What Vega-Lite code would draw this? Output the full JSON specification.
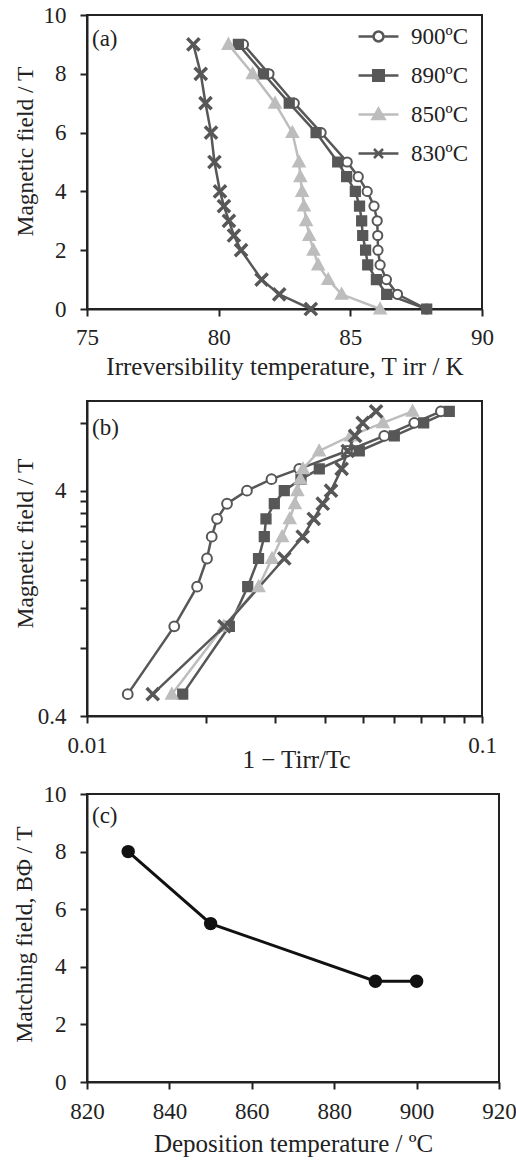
{
  "$schema": "https://vega.github.io/schema/vega-lite/v6.json",
  "background": "white",
  "padding": {"left": 10, "top": 3, "right": 0, "bottom": 5},
  "spacing": 9,
  "config": {
    "font": "Liberation Serif",
    "view": {"stroke": "#222222", "strokeWidth": 2},
    "axis": {
      "grid": false, "domainColor": "#222222", "domainWidth": 2, "tickColor": "#222222", "tickWidth": 2, "tickSize": 7,
      "labelFont": "Liberation Serif", "labelFontSize": 23, "labelColor": "#222222", "labelFlush": false, "labelOverlap": false, "labelPadding": 10,
      "titleFont": "Liberation Serif", "titleFontSize": 25, "titleFontWeight": "normal", "titleColor": "#222222"
    },
    "axisY": {"labelPadding": 14, "titleFontSize": 23.5},
    "title": {"font": "Liberation Serif", "fontSize": 23, "fontWeight": "normal", "color": "#222222", "anchor": "start", "frame": "group", "baseline": "alphabetic"}
  },
  "datasets": {
    "a": [
      {"s": "900ºC", "T": 80.94, "B": 9}, {"s": "900ºC", "T": 81.91, "B": 8}, {"s": "900ºC", "T": 82.87, "B": 7}, {"s": "900ºC", "T": 83.89, "B": 6}, {"s": "900ºC", "T": 84.88, "B": 5}, {"s": "900ºC", "T": 85.3, "B": 4.5}, {"s": "900ºC", "T": 85.64, "B": 4}, {"s": "900ºC", "T": 85.9, "B": 3.5}, {"s": "900ºC", "T": 86.02, "B": 3}, {"s": "900ºC", "T": 86.04, "B": 2.5}, {"s": "900ºC", "T": 86.05, "B": 2}, {"s": "900ºC", "T": 86.13, "B": 1.5}, {"s": "900ºC", "T": 86.37, "B": 1}, {"s": "900ºC", "T": 86.79, "B": 0.5}, {"s": "900ºC", "T": 87.9, "B": 0},
      {"s": "890ºC", "T": 80.75, "B": 9}, {"s": "890ºC", "T": 81.7, "B": 8}, {"s": "890ºC", "T": 82.68, "B": 7}, {"s": "890ºC", "T": 83.7, "B": 6}, {"s": "890ºC", "T": 84.52, "B": 5}, {"s": "890ºC", "T": 84.86, "B": 4.5}, {"s": "890ºC", "T": 85.19, "B": 4}, {"s": "890ºC", "T": 85.35, "B": 3.5}, {"s": "890ºC", "T": 85.43, "B": 3}, {"s": "890ºC", "T": 85.47, "B": 2.5}, {"s": "890ºC", "T": 85.58, "B": 2}, {"s": "890ºC", "T": 85.66, "B": 1.5}, {"s": "890ºC", "T": 85.99, "B": 1}, {"s": "890ºC", "T": 86.38, "B": 0.5}, {"s": "890ºC", "T": 87.9, "B": 0},
      {"s": "850ºC", "T": 80.37, "B": 9}, {"s": "850ºC", "T": 81.29, "B": 8}, {"s": "850ºC", "T": 82.14, "B": 7}, {"s": "850ºC", "T": 82.8, "B": 6}, {"s": "850ºC", "T": 83.05, "B": 5}, {"s": "850ºC", "T": 83.1, "B": 4.5}, {"s": "850ºC", "T": 83.17, "B": 4}, {"s": "850ºC", "T": 83.24, "B": 3.5}, {"s": "850ºC", "T": 83.32, "B": 3}, {"s": "850ºC", "T": 83.44, "B": 2.5}, {"s": "850ºC", "T": 83.6, "B": 2}, {"s": "850ºC", "T": 83.78, "B": 1.5}, {"s": "850ºC", "T": 84.16, "B": 1}, {"s": "850ºC", "T": 84.67, "B": 0.5}, {"s": "850ºC", "T": 86.13, "B": 0},
      {"s": "830ºC", "T": 79.04, "B": 9}, {"s": "830ºC", "T": 79.32, "B": 8}, {"s": "830ºC", "T": 79.5, "B": 7}, {"s": "830ºC", "T": 79.71, "B": 6}, {"s": "830ºC", "T": 79.84, "B": 5}, {"s": "830ºC", "T": 80.05, "B": 4}, {"s": "830ºC", "T": 80.2, "B": 3.5}, {"s": "830ºC", "T": 80.39, "B": 3}, {"s": "830ºC", "T": 80.58, "B": 2.5}, {"s": "830ºC", "T": 80.85, "B": 2}, {"s": "830ºC", "T": 81.63, "B": 1}, {"s": "830ºC", "T": 82.3, "B": 0.5}, {"s": "830ºC", "T": 83.5, "B": 0}
    ],
    "b": [
      {"s": "900ºC", "r": 0.01268, "B": 0.5}, {"s": "900ºC", "r": 0.01663, "B": 1}, {"s": "900ºC", "r": 0.019, "B": 1.5}, {"s": "900ºC", "r": 0.02013, "B": 2}, {"s": "900ºC", "r": 0.02069, "B": 2.5}, {"s": "900ºC", "r": 0.02134, "B": 3}, {"s": "900ºC", "r": 0.02262, "B": 3.5}, {"s": "900ºC", "r": 0.02541, "B": 4}, {"s": "900ºC", "r": 0.02931, "B": 4.5}, {"s": "900ºC", "r": 0.03447, "B": 5}, {"s": "900ºC", "r": 0.04552, "B": 6}, {"s": "900ºC", "r": 0.05658, "B": 7}, {"s": "900ºC", "r": 0.0674, "B": 8}, {"s": "900ºC", "r": 0.0787, "B": 9},
      {"s": "890ºC", "r": 0.01747, "B": 0.5}, {"s": "890ºC", "r": 0.02293, "B": 1}, {"s": "890ºC", "r": 0.02552, "B": 1.5}, {"s": "890ºC", "r": 0.02718, "B": 2}, {"s": "890ºC", "r": 0.02811, "B": 2.5}, {"s": "890ºC", "r": 0.02839, "B": 3}, {"s": "890ºC", "r": 0.0298, "B": 3.5}, {"s": "890ºC", "r": 0.03158, "B": 4}, {"s": "890ºC", "r": 0.03481, "B": 4.5}, {"s": "890ºC", "r": 0.03873, "B": 5}, {"s": "890ºC", "r": 0.04891, "B": 6}, {"s": "890ºC", "r": 0.05998, "B": 7}, {"s": "890ºC", "r": 0.07117, "B": 8}, {"s": "890ºC", "r": 0.08264, "B": 9},
      {"s": "850ºC", "r": 0.0164, "B": 0.5}, {"s": "850ºC", "r": 0.0222, "B": 1}, {"s": "850ºC", "r": 0.0272, "B": 1.5}, {"s": "850ºC", "r": 0.0294, "B": 2}, {"s": "850ºC", "r": 0.0312, "B": 2.5}, {"s": "850ºC", "r": 0.0326, "B": 3}, {"s": "850ºC", "r": 0.0336, "B": 3.5}, {"s": "850ºC", "r": 0.0341, "B": 4}, {"s": "850ºC", "r": 0.0347, "B": 4.5}, {"s": "850ºC", "r": 0.0352, "B": 5}, {"s": "850ºC", "r": 0.0387, "B": 6}, {"s": "850ºC", "r": 0.0465, "B": 7}, {"s": "850ºC", "r": 0.0561, "B": 8}, {"s": "850ºC", "r": 0.0667, "B": 9},
      {"s": "830ºC", "r": 0.01467, "B": 0.5}, {"s": "830ºC", "r": 0.02227, "B": 1}, {"s": "830ºC", "r": 0.03158, "B": 2}, {"s": "830ºC", "r": 0.03516, "B": 2.5}, {"s": "830ºC", "r": 0.0375, "B": 3}, {"s": "830ºC", "r": 0.03952, "B": 3.5}, {"s": "830ºC", "r": 0.04147, "B": 4}, {"s": "830ºC", "r": 0.04413, "B": 5}, {"s": "830ºC", "r": 0.04571, "B": 6}, {"s": "830ºC", "r": 0.04771, "B": 7}, {"s": "830ºC", "r": 0.04988, "B": 8}, {"s": "830ºC", "r": 0.05393, "B": 9}
    ],
    "c": [
      {"t": 830, "B": 8}, {"t": 850, "B": 5.5}, {"t": 890, "B": 3.5}, {"t": 900, "B": 3.5}
    ]
  },
  "vconcat": [
    {
      "width": 395, "height": 294,
      "title": {"text": "(a)", "offset": -46.5, "dx": 5},
      "data": {"name": "a"},
      "resolve": {"scale": {"shape": "independent", "fill": "independent", "stroke": "independent"}},
      "layer": [
        {
          "mark": {"type": "line", "strokeWidth": 2.5},
          "encoding": {
            "x": {"field": "T", "type": "quantitative", "scale": {"domain": [75, 90], "nice": false, "zero": false},
                  "axis": {"values": [75, 80, 85, 90], "title": "Irreversibility temperature, T irr  / K", "titleY": 65, "titleBaseline": "alphabetic"}},
            "y": {"field": "B", "type": "quantitative", "scale": {"domain": [0, 10], "nice": false},
                  "axis": {"values": [0, 2, 4, 6, 8, 10], "title": "Magnetic field / T", "titleX": -62, "titleY": 136, "titleBaseline": "middle"}},
            "stroke": {"field": "s", "type": "nominal", "scale": {"domain": ["900ºC", "890ºC", "850ºC", "830ºC"], "range": ["#575757", "#575757", "#bdbdbd", "#575757"]}, "legend": null},
            "order": {"field": "B", "type": "quantitative"}
          }
        },
        {
          "mark": {"type": "point", "filled": true, "opacity": 1, "strokeWidth": 2, "size": 196},
          "encoding": {
            "x": {"field": "T", "type": "quantitative"},
            "y": {"field": "B", "type": "quantitative"},
            "shape": {"field": "s", "type": "nominal", "scale": {"domain": ["900ºC", "890ºC", "850ºC", "830ºC"], "range": ["M-0.66,0A0.66,0.66,0,1,0,0.66,0A0.66,0.66,0,1,0,-0.66,0Z", "M-0.66,-0.66H0.66V0.66H-0.66Z", "M0,-0.82L0.8,0.64H-0.8Z", "M-0.7,-0.85L0,-0.15L0.7,-0.85L0.85,-0.7L0.15,0L0.85,0.7L0.7,0.85L0,0.15L-0.7,0.85L-0.85,0.7L-0.15,0L-0.85,-0.7Z"]}, "legend": null},
            "fill": {"field": "s", "type": "nominal", "scale": {"domain": ["900ºC", "890ºC", "850ºC", "830ºC"], "range": ["#ffffff", "#575757", "#bdbdbd", "#575757"]}, "legend": null},
            "stroke": {"field": "s", "type": "nominal", "scale": {"domain": ["900ºC", "890ºC", "850ºC", "830ºC"], "range": ["#575757", "#575757", "#bdbdbd", "#575757"]}, "legend": null}
          }
        },
        {
          "mark": {"type": "point", "filled": true, "opacity": 0, "strokeWidth": 2.5, "size": 900},
          "encoding": {
            "x": {"field": "T", "type": "quantitative"},
            "y": {"field": "B", "type": "quantitative"},
            "shape": {"field": "s", "type": "nominal", "scale": {"domain": ["900ºC", "890ºC", "850ºC", "830ºC"], "range": ["M-1.33,0H-0.33M0.33,0H1.33M-0.33,0A0.33,0.33,0,1,0,0.33,0A0.33,0.33,0,1,0,-0.33,0Z", "M-1.33,0H1.33M-0.35,-0.35H0.35V0.35H-0.35Z", "M-1.33,0H1.33M0,-0.4L0.4,0.3H-0.4Z", "M-1.33,0H1.33M-0.3,-0.3L0.3,0.3M-0.3,0.3L0.3,-0.3"]},
                      "legend": {"title": null, "orient": "none", "legendX": 275, "legendY": 5, "symbolSize": 900, "symbolStrokeWidth": 2.5, "symbolOpacity": 1, "labelFont": "Liberation Serif", "labelFontSize": 23, "labelColor": "#222222", "labelOffset": 16, "rowPadding": 10, "padding": 0}},
            "fill": {"field": "s", "type": "nominal", "scale": {"domain": ["900ºC", "890ºC", "850ºC", "830ºC"], "range": ["#ffffff", "#575757", "#bdbdbd", "#575757"]},
                     "legend": {"title": null, "orient": "none", "legendX": 275, "legendY": 5, "symbolSize": 900, "symbolStrokeWidth": 2.5, "symbolOpacity": 1, "labelFont": "Liberation Serif", "labelFontSize": 23, "labelColor": "#222222", "labelOffset": 16, "rowPadding": 10, "padding": 0}},
            "stroke": {"field": "s", "type": "nominal", "scale": {"domain": ["900ºC", "890ºC", "850ºC", "830ºC"], "range": ["#575757", "#575757", "#bdbdbd", "#575757"]},
                       "legend": {"title": null, "orient": "none", "legendX": 275, "legendY": 5, "symbolSize": 900, "symbolStrokeWidth": 2.5, "symbolOpacity": 1, "labelFont": "Liberation Serif", "labelFontSize": 23, "labelColor": "#222222", "labelOffset": 16, "rowPadding": 10, "padding": 0}}
          }
        }
      ]
    },
    {
      "width": 395, "height": 315,
      "title": {"text": "(b)", "offset": -49.5, "dx": 5},
      "data": {"name": "b"},
      "resolve": {"scale": {"shape": "independent", "fill": "independent", "stroke": "independent"}},
      "layer": [
        {
          "mark": {"type": "line", "strokeWidth": 2.5},
          "encoding": {
            "x": {"field": "r", "type": "quantitative", "scale": {"type": "log", "domain": [0.01, 0.1], "nice": false},
                  "axis": {"values": [0.01, 0.02, 0.03, 0.04, 0.05, 0.06, 0.07, 0.08, 0.09, 0.1], "labelExpr": "abs(datum.value - 0.01) < 1e-9 ? '0.01' : (abs(datum.value - 0.1) < 1e-9 ? '0.1' : '')", "labelPadding": 11, "title": "1 − Tirr/Tc", "titleX": 209, "titleY": 51, "titleBaseline": "alphabetic"}},
            "y": {"field": "B", "type": "quantitative", "scale": {"type": "log", "domain": [0.4, 10], "nice": false},
                  "axis": {"values": [0.4, 0.8, 1.2, 1.6, 2, 2.4, 2.8, 3.2, 3.6, 4, 8, 10], "labelExpr": "datum.value > 9 ? ' ' : (abs(datum.value - 4) < 1e-6 ? '4' : (abs(datum.value - 0.4) < 1e-6 ? '0.4' : ''))", "tickOpacity": {"condition": {"test": "datum.value > 9", "value": 0}, "value": 1}, "title": "Magnetic field / T", "titleX": -62, "titleY": 142, "titleBaseline": "middle"}},
            "stroke": {"field": "s", "type": "nominal", "scale": {"domain": ["900ºC", "890ºC", "850ºC", "830ºC"], "range": ["#575757", "#575757", "#bdbdbd", "#575757"]}, "legend": null},
            "order": {"field": "B", "type": "quantitative"}
          }
        },
        {
          "mark": {"type": "point", "filled": true, "opacity": 1, "strokeWidth": 2, "size": 196},
          "encoding": {
            "x": {"field": "r", "type": "quantitative"},
            "y": {"field": "B", "type": "quantitative"},
            "shape": {"field": "s", "type": "nominal", "scale": {"domain": ["900ºC", "890ºC", "850ºC", "830ºC"], "range": ["M-0.7,0A0.7,0.7,0,1,0,0.7,0A0.7,0.7,0,1,0,-0.7,0Z", "M-0.66,-0.66H0.66V0.66H-0.66Z", "M0,-0.82L0.8,0.64H-0.8Z", "M-0.7,-0.85L0,-0.15L0.7,-0.85L0.85,-0.7L0.15,0L0.85,0.7L0.7,0.85L0,0.15L-0.7,0.85L-0.85,0.7L-0.15,0L-0.85,-0.7Z"]}, "legend": null},
            "fill": {"field": "s", "type": "nominal", "scale": {"domain": ["900ºC", "890ºC", "850ºC", "830ºC"], "range": ["#ffffff", "#575757", "#bdbdbd", "#575757"]}, "legend": null},
            "stroke": {"field": "s", "type": "nominal", "scale": {"domain": ["900ºC", "890ºC", "850ºC", "830ºC"], "range": ["#575757", "#575757", "#bdbdbd", "#575757"]}, "legend": null}
          }
        }
      ]
    },
    {
      "width": 412, "height": 288,
      "title": {"text": "(c)", "offset": -44.5, "dx": 5},
      "data": {"name": "c"},
      "layer": [
        {
          "mark": {"type": "line", "color": "#111111", "strokeWidth": 3},
          "encoding": {
            "x": {"field": "t", "type": "quantitative", "scale": {"domain": [820, 920], "nice": false, "zero": false},
                  "axis": {"values": [820, 840, 860, 880, 900, 920], "labelPadding": 11, "title": "Deposition temperature / ºC", "titleY": 69, "titleBaseline": "alphabetic"}},
            "y": {"field": "B", "type": "quantitative", "scale": {"domain": [0, 10], "nice": false},
                  "axis": {"values": [0, 2, 4, 6, 8, 10], "title": "Matching field, BΦ / T", "titleX": -63, "titleY": 140, "titleBaseline": "middle"}}
          }
        },
        {
          "mark": {"type": "circle", "color": "#111111", "size": 180, "opacity": 1},
          "encoding": {
            "x": {"field": "t", "type": "quantitative"},
            "y": {"field": "B", "type": "quantitative"}
          }
        }
      ]
    }
  ]
}
